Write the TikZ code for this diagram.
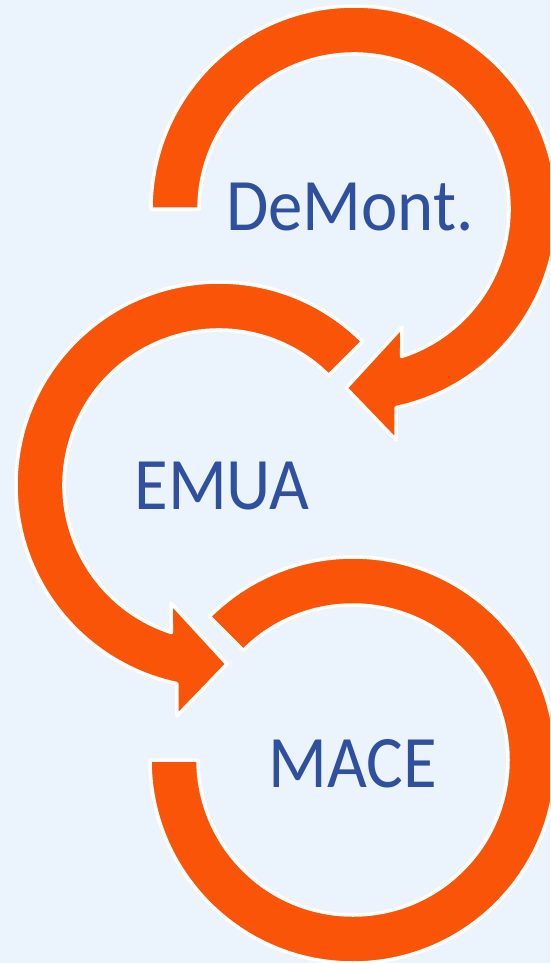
\documentclass[tikz,border=0pt]{standalone}
\usepackage{fontspec}
\setmainfont[FakeStretch=0.93]{Carlito}
\definecolor{bg}{HTML}{EBF4FD}
\definecolor{arroworange}{HTML}{FA5408}
\definecolor{textblue}{HTML}{2E509E}
\begin{document}
\begin{tikzpicture}[x=1pt,y=1pt,
  band/.style={fill=arroworange,draw=white,line width=3.5pt,line join=round},
  lbl/.style={text=textblue,font=\fontsize{74}{80}\selectfont,inner sep=0pt,anchor=base}]
\fill[bg] (0,0) rectangle (550,-963);
\useasboundingbox (0,0) rectangle (550,-963);
\clip (0,0) rectangle (550,-963);
% top arrow
\begin{scope}[shift={(354,-209)}]
\draw[band] (180:203) arc[start angle=180,end angle=-78,radius=203]
  -- (42,-231) -- (-8,-179) -- (48,-118)
  -- (-72.1:155) arc[start angle=-72.1,end angle=180,radius=155] -- cycle;
\end{scope}
% middle arrow
\begin{scope}[shift={(219,-485)}]
\draw[band] (45:203) arc[start angle=45,end angle=258,radius=203]
  -- (-42,-231) -- (8,-179) -- (-48,-118)
  -- (252.1:155) arc[start angle=252.1,end angle=45,radius=155] -- cycle;
\end{scope}
% bottom ring
\begin{scope}[shift={(353,-760)}]
\draw[band] (180:203) arc[start angle=180,end angle=495,radius=203]
  -- (495:155) arc[start angle=495,end angle=180,radius=155] -- cycle;
\end{scope}
\node[lbl] (demont) at (350,-230) {DeMont.};
\node[lbl] (emua) at (222,-509) {EMUA};
\node[lbl] (mace) at (353,-787) {MACE};
\end{tikzpicture}
\end{document}
